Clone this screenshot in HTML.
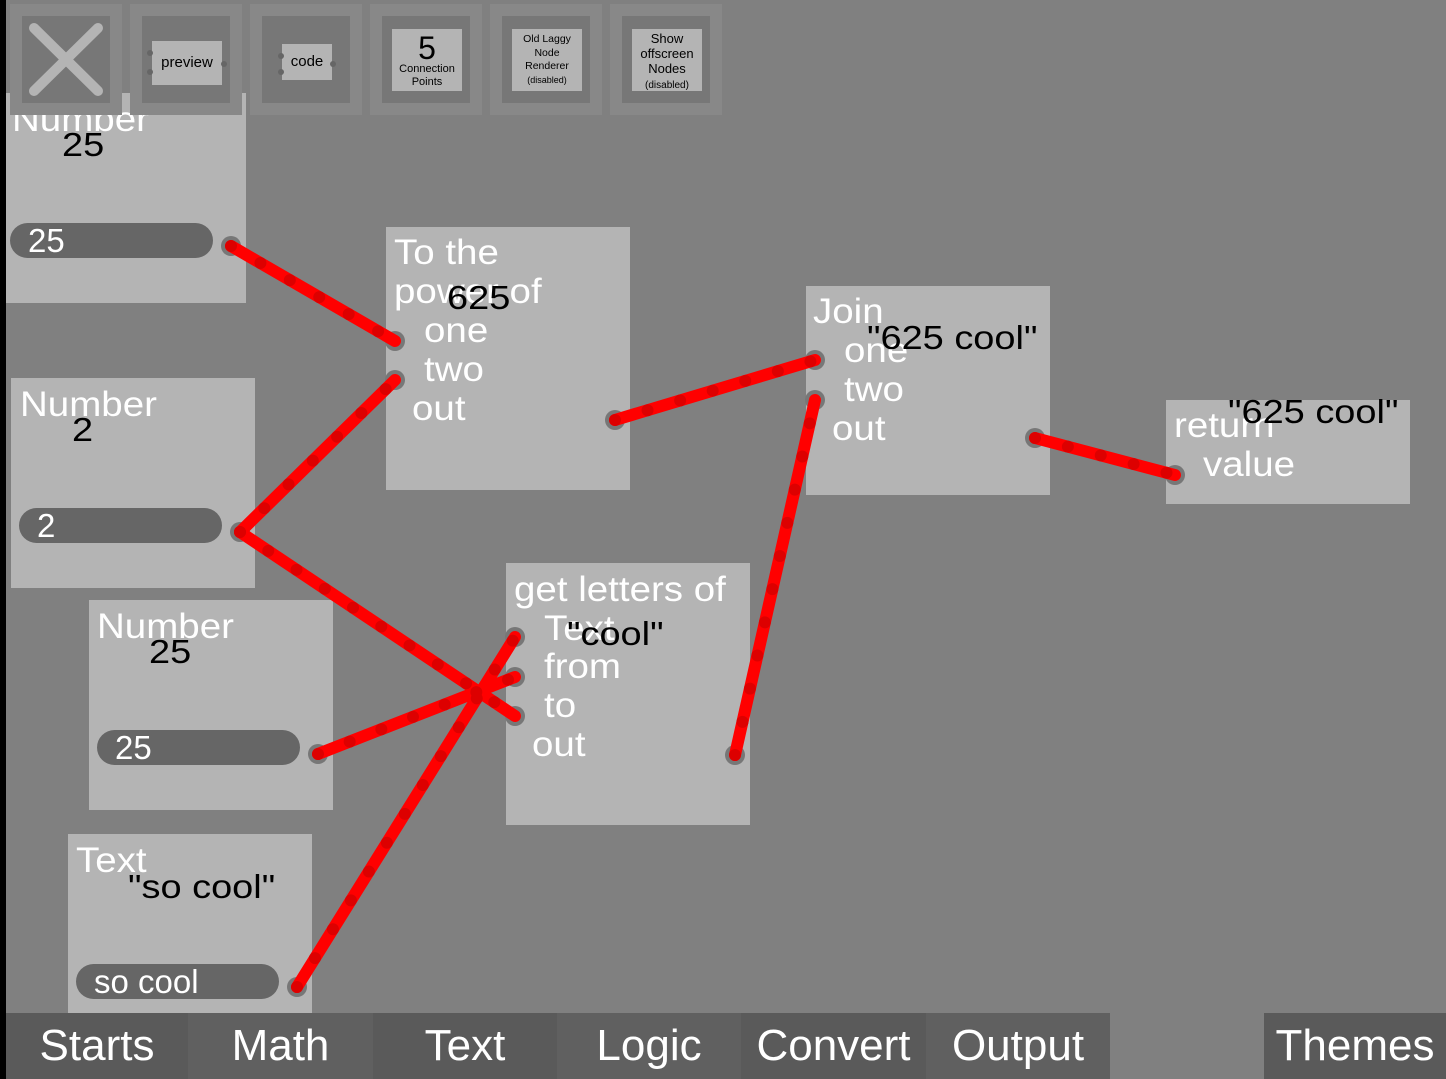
<!DOCTYPE html>
<html><head><meta charset="utf-8"><style>
*{margin:0;padding:0;box-sizing:border-box}
body{width:1446px;height:1079px;overflow:hidden;background:#808080;position:relative;font-family:"Liberation Sans","DejaVu Sans",sans-serif}
.a{position:absolute}
.node{position:absolute;background:#b4b4b4}
.w{position:absolute;color:#fff;font-size:35px;line-height:34px;white-space:nowrap;transform:scaleX(1.1);transform-origin:0 0}
.k{position:absolute;color:#000;font-size:33px;line-height:32px;white-space:nowrap;transform:scaleX(1.15);transform-origin:0 0}
.pill{position:absolute;background:#666;border-radius:18px;height:35px;width:203px;color:#fff;font-size:33px;line-height:35px;padding-left:18px}
.btn{position:absolute;top:4px;width:112px;height:111px;background:#888}
.btn .in{position:absolute;left:12px;top:12px;width:88px;height:87px;background:#777}
.lbl{position:absolute;background:#b4b4b4;color:#000;text-align:center;font-size:11px;line-height:13px}
.tab{position:absolute;top:1013px;height:66px;color:#fff;font-size:44px;line-height:66px;text-align:center}
</style></head><body>
<div class="a" style="left:0;top:0;width:6px;height:1079px;background:#000"></div>

<div class="node" style="left:6px;top:93px;width:240px;height:210px"></div>
<div class="w" style="left:12px;top:103px">Number</div>
<div class="k" style="left:62px;top:129px">25</div>
<div class="pill" style="left:10px;top:223px">25</div>

<div class="node" style="left:386px;top:227px;width:244px;height:263px"></div>
<div class="w" style="left:394px;top:236px">To the</div>
<div class="w" style="left:394px;top:275px">power of</div>
<div class="k" style="left:447px;top:282px">625</div>
<div class="w" style="left:424px;top:314px">one</div>
<div class="w" style="left:424px;top:353px">two</div>
<div class="w" style="left:412px;top:392px">out</div>

<div class="node" style="left:11px;top:378px;width:244px;height:210px"></div>
<div class="w" style="left:20px;top:388px">Number</div>
<div class="k" style="left:72px;top:414px">2</div>
<div class="pill" style="left:19px;top:508px">2</div>

<div class="node" style="left:806px;top:286px;width:244px;height:209px"></div>
<div class="w" style="left:813px;top:295px">Join</div>
<div class="w" style="left:844px;top:334px">one</div>
<div class="k" style="left:867px;top:322px">"625 cool"</div>
<div class="w" style="left:844px;top:373px">two</div>
<div class="w" style="left:832px;top:412px">out</div>

<div class="node" style="left:1166px;top:400px;width:244px;height:104px"></div>
<div class="w" style="left:1174px;top:409px">return</div>
<div class="k" style="left:1228px;top:396px">"625 cool"</div>
<div class="w" style="left:1203px;top:448px">value</div>

<div class="node" style="left:89px;top:600px;width:244px;height:210px"></div>
<div class="w" style="left:97px;top:610px">Number</div>
<div class="k" style="left:149px;top:636px">25</div>
<div class="pill" style="left:97px;top:730px">25</div>

<div class="node" style="left:506px;top:563px;width:244px;height:262px"></div>
<div class="w" style="left:514px;top:573px">get letters of</div>
<div class="w" style="left:544px;top:612px">Text</div>
<div class="k" style="left:567px;top:618px">"cool"</div>
<div class="w" style="left:544px;top:650px">from</div>
<div class="w" style="left:544px;top:689px">to</div>
<div class="w" style="left:532px;top:728px">out</div>

<div class="node" style="left:68px;top:834px;width:244px;height:179px"></div>
<div class="w" style="left:76px;top:844px">Text</div>
<div class="k" style="left:128px;top:871px">"so cool"</div>
<div class="pill" style="left:76px;top:964px">so cool</div>

<svg class="a" style="left:0;top:0" width="1446" height="1079">
<g fill="#777">
<circle cx="231" cy="246" r="10"/><circle cx="395" cy="341" r="10"/><circle cx="395" cy="380" r="10"/>
<circle cx="240" cy="532" r="10"/><circle cx="515" cy="716" r="10"/><circle cx="318" cy="754" r="10"/>
<circle cx="515" cy="677" r="10"/><circle cx="297" cy="987" r="10"/><circle cx="515" cy="637" r="10"/>
<circle cx="615" cy="420" r="10"/><circle cx="815" cy="360" r="10"/><circle cx="735" cy="755" r="10"/>
<circle cx="815" cy="400" r="10"/><circle cx="1035" cy="438" r="10"/><circle cx="1175" cy="475" r="10"/>
</g>
<g stroke="#f00" stroke-width="12" stroke-linecap="round">
<line x1="231" y1="246" x2="395" y2="341"/>
<line x1="240" y1="532" x2="395" y2="380"/>
<line x1="240" y1="532" x2="515" y2="716"/>
<line x1="318" y1="754" x2="515" y2="677"/>
<line x1="297" y1="987" x2="515" y2="637"/>
<line x1="615" y1="420" x2="815" y2="360"/>
<line x1="735" y1="755" x2="815" y2="400"/>
<line x1="1035" y1="438" x2="1175" y2="475"/>
</g>
<g stroke="#d00" stroke-width="12" stroke-linecap="round" stroke-dasharray="0 34">
<line x1="231" y1="246" x2="395" y2="341"/>
<line x1="240" y1="532" x2="395" y2="380"/>
<line x1="240" y1="532" x2="515" y2="716"/>
<line x1="318" y1="754" x2="515" y2="677"/>
<line x1="297" y1="987" x2="515" y2="637"/>
<line x1="615" y1="420" x2="815" y2="360"/>
<line x1="735" y1="755" x2="815" y2="400"/>
<line x1="1035" y1="438" x2="1175" y2="475"/>
</g>
</svg>

<div class="btn" style="left:10px"><div class="in"></div>
<svg class="a" style="left:12px;top:12px" width="88" height="87"><g stroke="#b4b4b4" stroke-width="10" stroke-linecap="round"><line x1="12" y1="12" x2="76" y2="75"/><line x1="76" y1="12" x2="12" y2="75"/></g></svg></div>
<div class="btn" style="left:130px"><div class="in"></div>
<div class="lbl" style="left:22px;top:37px;width:70px;height:44px;font-size:15px;line-height:44px">preview</div>
<svg class="a" style="left:0;top:0" width="112" height="111"><g fill="#666"><circle cx="20" cy="49" r="3"/><circle cx="20" cy="68" r="3"/><circle cx="94" cy="60" r="3"/></g></svg></div>
<div class="btn" style="left:250px"><div class="in"></div>
<div class="lbl" style="left:32px;top:40px;width:50px;height:36px;font-size:15px;line-height:36px">code</div>
<svg class="a" style="left:0;top:0" width="112" height="111"><g fill="#666"><circle cx="31" cy="52" r="3"/><circle cx="31" cy="68" r="3"/><circle cx="83" cy="60" r="3"/></g></svg></div>
<div class="btn" style="left:370px"><div class="in"></div>
<div class="lbl" style="left:22px;top:25px;width:70px;height:62px;padding-top:4px"><div style="font-size:32px;line-height:30px">5</div>Connection<br>Points</div></div>
<div class="btn" style="left:490px"><div class="in"></div>
<div class="lbl" style="left:22px;top:25px;width:70px;height:62px;font-size:10.5px;line-height:13.5px;padding-top:4px">Old Laggy<br>Node<br>Renderer<br><span style="font-size:9px">(disabled)</span></div></div>
<div class="btn" style="left:610px"><div class="in"></div>
<div class="lbl" style="left:22px;top:25px;width:70px;height:62px;font-size:13px;line-height:15px;padding-top:2px">Show<br>offscreen<br>Nodes<br><span style="font-size:10px;line-height:12px">(disabled)</span></div></div>

<div class="tab" style="left:6px;width:182px;background:#5a5a5a">Starts</div>
<div class="tab" style="left:188px;width:185px;background:#606060">Math</div>
<div class="tab" style="left:373px;width:184px;background:#5a5a5a">Text</div>
<div class="tab" style="left:557px;width:184px;background:#606060">Logic</div>
<div class="tab" style="left:741px;width:185px;background:#5a5a5a">Convert</div>
<div class="tab" style="left:926px;width:184px;background:#606060">Output</div>
<div class="tab" style="left:1264px;width:182px;background:#5a5a5a">Themes</div>
</body></html>
